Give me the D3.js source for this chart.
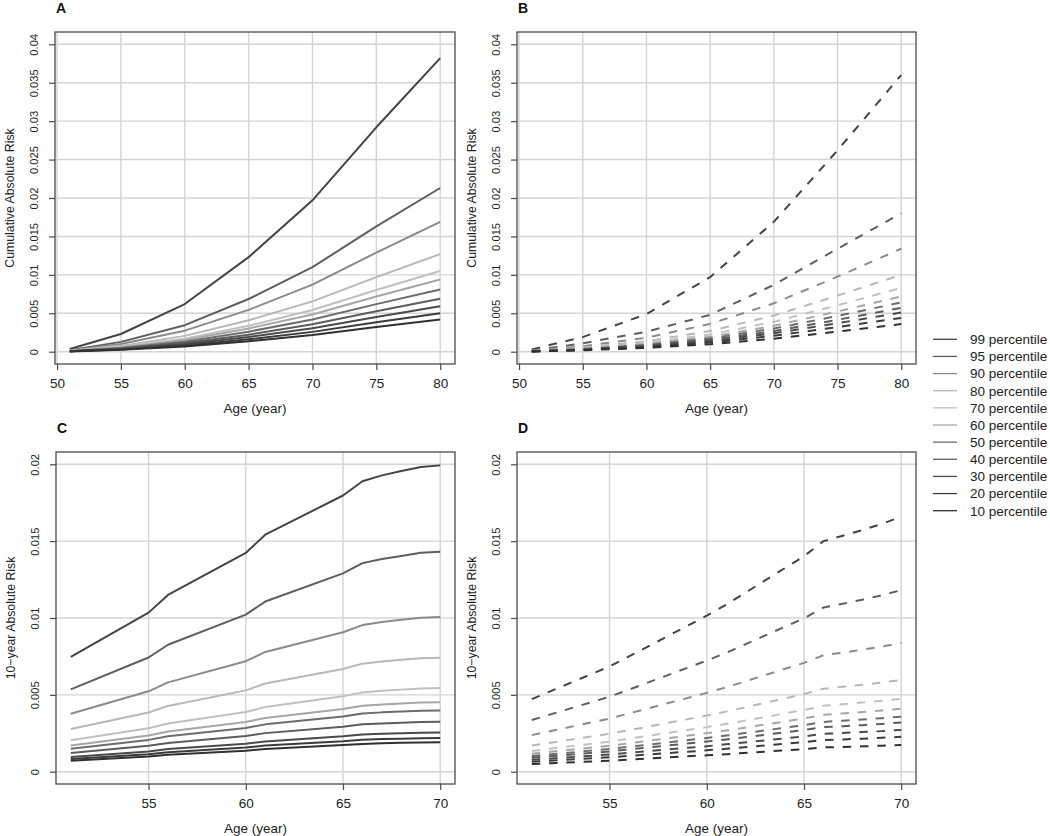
<!DOCTYPE html>
<html><head><meta charset="utf-8">
<script src="https://cdn.jsdelivr.net/npm/d3@7"></script>
<style>
body{margin:0;background:#fff}
svg{display:block;font-family:"Liberation Sans",Arial,Helvetica,sans-serif}
</style>
</head><body>
<svg id="chart" width="1050" height="836"></svg>
<script>
// ---------------- data ----------------
const percentiles = ["99","95","90","80","70","60","50","40","30","20","10"];
const legendLabels = percentiles.map(p => p + " percentile");

const agesCum = [51, 55, 60, 65, 70, 75, 80];
const agesTen = [51, 55, 56, 60, 61, 65, 66, 67, 68, 69, 70];

const xTicksCum = [50, 55, 60, 65, 70, 75, 80];
const xTicksTen = [55, 60, 65, 70];
const yTicksCum = [0, 0.005, 0.01, 0.015, 0.02, 0.025, 0.03, 0.035, 0.04];
const yLabelsCum = ["0","0.005","0.01","0.015","0.02","0.025","0.03","0.035","0.04"];
const yTicksTen = [0, 0.005, 0.01, 0.015, 0.02];
const yLabelsTen = ["0","0.005","0.01","0.015","0.02"];

// Panel A: cumulative absolute risk (solid), rows follow percentiles order
const cumA = [
  [0.00035, 0.0023, 0.0062, 0.0123, 0.0197, 0.0292, 0.0382],
  [0.00019, 0.00128, 0.00345, 0.00686, 0.0110, 0.0163, 0.0213],
  [0.00015, 0.00101, 0.00274, 0.00544, 0.00872, 0.0129, 0.0169],
  [0.00011, 0.00076, 0.00206, 0.00409, 0.00655, 0.0097, 0.0127],
  [0.00009, 0.00063, 0.0017, 0.00338, 0.00542, 0.00802, 0.0105],
  [0.00008, 0.00056, 0.00152, 0.00303, 0.00485, 0.00718, 0.0094],
  [0.00007, 0.00049, 0.00131, 0.00261, 0.00418, 0.00619, 0.0081],
  [0.00006, 0.00041, 0.00112, 0.00222, 0.00356, 0.00527, 0.0069],
  [0.00005, 0.00035, 0.00096, 0.0019, 0.00304, 0.00451, 0.0059],
  [0.000045, 0.0003, 0.00081, 0.00161, 0.00258, 0.00382, 0.0050],
  [0.00004, 0.00025, 0.00068, 0.00135, 0.00217, 0.00321, 0.0042]
];

// Panel B: cumulative absolute risk (dashed)
const cumB = [
  [0.0003, 0.0019, 0.0049, 0.0097, 0.0169, 0.0262, 0.0360],
  [0.00015, 0.0011, 0.0026, 0.0048, 0.0087, 0.0134, 0.0180],
  [0.00011, 0.00071, 0.00182, 0.00362, 0.0063, 0.00976, 0.0134],
  [0.00008, 0.00053, 0.00136, 0.0027, 0.0047, 0.0073, 0.0100],
  [0.00007, 0.00044, 0.00113, 0.00224, 0.0039, 0.00604, 0.0083],
  [0.00006, 0.00038, 0.00098, 0.00194, 0.00338, 0.00524, 0.0072],
  [0.00005, 0.00034, 0.00087, 0.00173, 0.00301, 0.00466, 0.0064],
  [0.000045, 0.0003, 0.00078, 0.00154, 0.00268, 0.00415, 0.0057],
  [0.00004, 0.00027, 0.00069, 0.00138, 0.0024, 0.00371, 0.0051],
  [0.000035, 0.00023, 0.0006, 0.00119, 0.00207, 0.0032, 0.0044],
  [0.00003, 0.00019, 0.00049, 0.00097, 0.00169, 0.00262, 0.0036]
];

// Panel C: 10-year absolute risk (solid)
const tenC = [
  [0.00747, 0.01035, 0.0115, 0.01423, 0.01542, 0.01797, 0.0189, 0.01928, 0.01956, 0.01983, 0.01993],
  [0.00536, 0.00743, 0.00826, 0.01022, 0.01107, 0.0129, 0.01357, 0.01384, 0.01404, 0.01424, 0.01431],
  [0.00377, 0.00523, 0.00581, 0.00719, 0.00779, 0.00907, 0.00954, 0.00974, 0.00988, 0.01001, 0.01006],
  [0.00278, 0.00385, 0.00428, 0.00529, 0.00574, 0.00668, 0.00703, 0.00717, 0.00728, 0.00738, 0.00741],
  [0.00204, 0.00283, 0.00314, 0.00388, 0.00421, 0.00491, 0.00516, 0.00526, 0.00534, 0.00541, 0.00544],
  [0.0017, 0.00235, 0.00261, 0.00323, 0.0035, 0.00408, 0.00429, 0.00438, 0.00444, 0.0045, 0.00452],
  [0.00149, 0.00207, 0.0023, 0.00285, 0.00308, 0.00359, 0.00378, 0.00386, 0.00391, 0.00397, 0.00399],
  [0.00122, 0.00169, 0.00187, 0.00232, 0.00251, 0.00293, 0.00308, 0.00314, 0.00319, 0.00323, 0.00325],
  [0.00096, 0.00132, 0.00147, 0.00182, 0.00197, 0.0023, 0.00242, 0.00247, 0.0025, 0.00254, 0.00255],
  [0.00082, 0.00114, 0.00127, 0.00157, 0.0017, 0.00198, 0.00208, 0.00212, 0.00215, 0.00218, 0.00219],
  [0.00072, 0.00099, 0.0011, 0.00137, 0.00148, 0.00173, 0.00181, 0.00185, 0.00188, 0.0019, 0.00191]
];

// Panel D: 10-year absolute risk (dashed)
const tenD = [
  [0.00472, 0.00685, 0.0075, 0.01015, 0.01087, 0.01402, 0.0150, 0.01535, 0.01572, 0.01612, 0.01659],
  [0.00336, 0.00488, 0.00534, 0.00723, 0.00774, 0.00998, 0.01068, 0.01093, 0.01119, 0.01148, 0.01181],
  [0.00238, 0.00346, 0.00379, 0.00513, 0.00549, 0.00708, 0.00758, 0.00775, 0.00794, 0.00814, 0.00838],
  [0.0017, 0.00247, 0.0027, 0.00365, 0.00391, 0.00505, 0.0054, 0.00553, 0.00566, 0.0058, 0.00597],
  [0.00135, 0.00196, 0.00215, 0.0029, 0.00311, 0.00401, 0.00429, 0.00439, 0.0045, 0.00461, 0.00474],
  [0.00117, 0.00169, 0.00185, 0.00251, 0.00268, 0.00346, 0.00371, 0.00379, 0.00388, 0.00398, 0.0041],
  [0.00102, 0.00148, 0.00162, 0.00219, 0.00235, 0.00303, 0.00324, 0.00332, 0.0034, 0.00348, 0.00358],
  [0.00091, 0.00132, 0.00145, 0.00196, 0.0021, 0.00271, 0.0029, 0.00296, 0.00303, 0.00311, 0.0032],
  [0.00077, 0.00112, 0.00123, 0.00166, 0.00178, 0.0023, 0.00246, 0.00252, 0.00258, 0.00264, 0.00272],
  [0.00065, 0.00094, 0.00103, 0.00139, 0.00149, 0.00192, 0.00206, 0.0021, 0.00215, 0.00221, 0.00227],
  [0.0005, 0.00072, 0.00079, 0.00107, 0.00114, 0.00147, 0.00158, 0.00161, 0.00165, 0.00169, 0.00174]
];

// ---------------- style ----------------
const colors = ["#444444","#5e5e5e","#8a8a8a","#b7b7b7","#c0c0c0","#a6a6a6",
                "#6c6c6c","#5c5c5c","#4a4a4a","#3b3b3b","#303030"];
const gridColor = "#d4d4d4";
const boxColor = "#4a4a4a";
const textColor = "#222";

const svg = d3.select("#chart");
svg.append("rect").attr("width",1050).attr("height",836).attr("fill","#fff");

function drawPanel(cfg) {
  const g = svg.append("g");
  const a0 = cfg.ages[0], a1 = cfg.ages[cfg.ages.length - 1];
  const xp = (a1 - a0) * 0.04;
  const yMax = cfg.yTicks[cfg.yTicks.length - 1];
  const yp = yMax * 0.04;
  const x = d3.scaleLinear().domain([a0 - xp, a1 + xp]).range([cfg.left, cfg.right]);
  const y = d3.scaleLinear().domain([-yp, yMax + yp]).range([cfg.bottom, cfg.top]);

  // grid
  g.append("g").selectAll("line.v").data(cfg.xTicks).join("line")
    .attr("x1", d => x(d)).attr("x2", d => x(d))
    .attr("y1", cfg.top).attr("y2", cfg.bottom)
    .attr("stroke", gridColor).attr("stroke-width", 1.4);
  g.append("g").selectAll("line.h").data(cfg.yTicks).join("line")
    .attr("y1", d => y(d)).attr("y2", d => y(d))
    .attr("x1", cfg.left).attr("x2", cfg.right)
    .attr("stroke", gridColor).attr("stroke-width", 1.4);

  // series
  const line = d3.line().x((d, i) => x(cfg.ages[i])).y(d => y(d));
  g.append("g").selectAll("path").data(cfg.data).join("path")
    .attr("d", d => line(d))
    .attr("fill", "none")
    .attr("stroke", (d, i) => colors[i])
    .attr("stroke-width", 2)
    .attr("stroke-linejoin", "round")
    .attr("stroke-dasharray", cfg.dashed ? "8.5,8.8" : null);

  // box
  g.append("rect").attr("x", cfg.left).attr("y", cfg.top)
    .attr("width", cfg.right - cfg.left).attr("height", cfg.bottom - cfg.top)
    .attr("fill", "none").attr("stroke", boxColor).attr("stroke-width", 1.3);

  // x axis
  const xa = g.append("g").attr("transform", `translate(0,${cfg.bottom})`)
    .call(d3.axisBottom(x).tickValues(cfg.xTicks).tickSize(6).tickPadding(8).tickFormat(d3.format("d")));
  xa.select(".domain").remove();
  xa.selectAll("line").attr("stroke", boxColor).attr("stroke-width", 1.2);
  xa.selectAll("text").attr("fill", textColor).style("font-size", "13.5px")
    .style("font-family", '"Liberation Sans",Arial,sans-serif');

  // y axis
  const ya = g.append("g").attr("transform", `translate(${cfg.left},0)`)
    .call(d3.axisLeft(y).tickValues(cfg.yTicks).tickSize(6).tickFormat((d, i) => cfg.yLabels[i]));
  ya.select(".domain").remove();
  ya.selectAll("line").attr("stroke", boxColor).attr("stroke-width", 1.2);
  ya.selectAll("text")
    .attr("transform", "rotate(-90)")
    .attr("x", 0).attr("y", -21).attr("dy", "0.35em")
    .attr("text-anchor", "middle")
    .attr("fill", textColor).style("font-size", "11.2px")
    .style("font-family", '"Liberation Sans",Arial,sans-serif');

  // titles
  const cx = (cfg.left + cfg.right) / 2, cy = (cfg.top + cfg.bottom) / 2;
  g.append("text").attr("x", cx).attr("y", cfg.bottom + 49)
    .attr("text-anchor", "middle").attr("fill", textColor)
    .style("font-size", "13.5px").text("Age (year)");
  g.append("text").attr("transform", `translate(${cfg.left - 41},${cy}) rotate(-90)`)
    .attr("text-anchor", "middle").attr("fill", textColor)
    .style("font-size", "12.3px").text(cfg.yTitle);
  g.append("text").attr("x", cfg.left + 1).attr("y", cfg.top - 19)
    .attr("fill", "#111").style("font-size", "14px").style("font-weight", "bold")
    .text(cfg.letter);
}

drawPanel({letter:"A", left:55, right:455, top:32, bottom:364, ages:agesCum, data:cumA,
  xTicks:xTicksCum, yTicks:yTicksCum, yLabels:yLabelsCum, dashed:false, yTitle:"Cumulative Absolute Risk"});
drawPanel({letter:"B", left:517, right:916, top:32, bottom:364, ages:agesCum, data:cumB,
  xTicks:xTicksCum, yTicks:yTicksCum, yLabels:yLabelsCum, dashed:true, yTitle:"Cumulative Absolute Risk"});
drawPanel({letter:"C", left:56, right:455, top:452, bottom:784, ages:agesTen, data:tenC,
  xTicks:xTicksTen, yTicks:yTicksTen, yLabels:yLabelsTen, dashed:false, yTitle:"10\u2212year Absolute Risk"});
drawPanel({letter:"D", left:517, right:916, top:452, bottom:784, ages:agesTen, data:tenD,
  xTicks:xTicksTen, yTicks:yTicksTen, yLabels:yLabelsTen, dashed:true, yTitle:"10\u2212year Absolute Risk"});

// legend
const leg = svg.append("g").selectAll("g").data(legendLabels).join("g")
  .attr("transform", (d, i) => `translate(0,${339.3 + i * 17.14})`);
leg.append("line").attr("x1", 933).attr("x2", 957).attr("y1", 0).attr("y2", 0)
  .attr("stroke", (d, i) => colors[i]).attr("stroke-width", 1.3);
leg.append("text").attr("x", 970).attr("y", 0).attr("dy", "0.36em")
  .attr("fill", textColor).style("font-size", "13.5px").text(d => d);
</script>
</body></html>
